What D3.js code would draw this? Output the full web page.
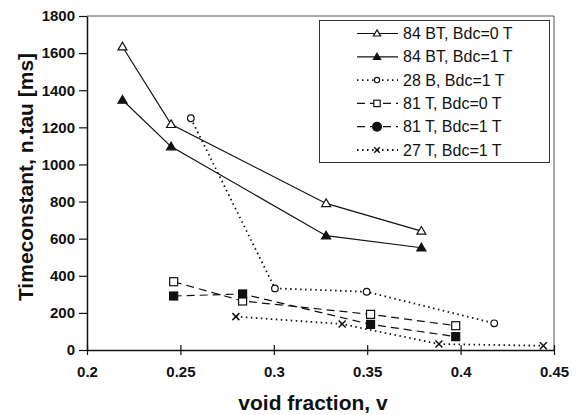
<!DOCTYPE html>
<html>
<head>
	<title>Timeconstant vs void fraction</title>
	<meta charset="utf-8">
	<script src="https://cdnjs.cloudflare.com/ajax/libs/d3/7.8.5/d3.min.js"></script>
	<style type="text/css">
		body { margin: 0; background: #fff; }
		text { font-family: Arial, "Liberation Sans", sans-serif; fill: #111; }
	</style>
</head>
<body>
	<script type="text/javascript">

		// values
		let seriesNames = ['84 BT, Bdc=0 T', '84 BT, Bdc=1 T', '28 B, Bdc=1 T', '81 T, Bdc=0 T', '81 T, Bdc=1 T', '27 T, Bdc=1 T'];
		let bt0X = [0.219, 0.245, 0.328, 0.379];
		let bt0Y = [1634, 1216, 790, 641];
		let bt1X = [0.219, 0.245, 0.328, 0.379];
		let bt1Y = [1347, 1096, 616, 551];
		let b28X = [0.2556, 0.3006, 0.3497, 0.418];
		let b28Y = [1249, 332, 314, 144];
		let t81aX = [0.2464, 0.2833, 0.3518, 0.3974];
		let t81aY = [368, 264, 192, 131];
		let t81bX = [0.2464, 0.2833, 0.3518, 0.3974];
		let t81bY = [291, 302, 138, 72];
		let t27X = [0.2797, 0.3366, 0.3884, 0.4443];
		let t27Y = [180, 140, 32, 23];
		let xTicks = [0.2, 0.25, 0.3, 0.35, 0.4, 0.45];
		let yTicks = [0, 200, 400, 600, 800, 1000, 1200, 1400, 1600, 1800];

		let styles = [
			{ dash: null, marker: 'triOpen' },
			{ dash: null, marker: 'triFill' },
			{ dash: '1.5,3.5', marker: 'circOpen' },
			{ dash: '8,5', marker: 'sqOpen' },
			{ dash: '8,5', marker: 'sqFill' },
			{ dash: '1.5,3.5', marker: 'cross' }
		];
		let xs = [bt0X, bt1X, b28X, t81aX, t81bX, t27X];
		let ys = [bt0Y, bt1Y, b28Y, t81aY, t81bY, t27Y];

		let series = seriesNames.map((name, i) => ({
			name: name,
			style: styles[i],
			points: xs[i].map((x, j) => ({ x: x, y: ys[i][j] }))
		}));

		let svg = d3.select('body').append('svg')
			.attr('width', 576)
			.attr('height', 415);

		let m = { left: 87, right: 554, top: 16, bottom: 350 };

		let xScale = d3.scaleLinear().domain([0.2, 0.45]).range([m.left, m.right]);
		let yScale = d3.scaleLinear().domain([0, 1800]).range([m.bottom, m.top]);

		// frame
		svg.append('line').attr('x1', m.left).attr('x2', m.right).attr('y1', m.top).attr('y2', m.top)
			.attr('stroke', '#555').attr('stroke-width', 1);
		svg.append('line').attr('x1', m.right).attr('x2', m.right).attr('y1', m.top).attr('y2', m.bottom)
			.attr('stroke', '#555').attr('stroke-width', 1);

		let xAxis = svg.append('g')
			.attr('transform', `translate(0,${m.bottom})`)
			.call(d3.axisBottom(xScale).tickValues(xTicks).tickFormat(d3.format('')).tickSize(4).tickSizeOuter(0));
		xAxis.selectAll('.tick line').attr('y1', -5).attr('y2', 5);
		xAxis.selectAll('.tick text').attr('dy', '1.3em');

		let yAxis = svg.append('g')
			.attr('transform', `translate(${m.left},0)`)
			.call(d3.axisLeft(yScale).tickValues(yTicks).tickFormat(d3.format('d')).tickSize(8).tickSizeOuter(0));
		yAxis.selectAll('.tick text').attr('x', -12);

		svg.selectAll('.domain').attr('stroke', '#111').attr('stroke-width', 1.5);
		svg.selectAll('.tick line').attr('stroke', '#111').attr('stroke-width', 1.2);
		svg.selectAll('.tick text')
			.attr('font-size', 15).attr('font-weight', 'bold')
			.attr('font-family', 'Arial, "Liberation Sans", sans-serif').attr('fill', '#111');

		let line = d3.line().x(d => xScale(d.x)).y(d => yScale(d.y));

		function drawMarker(g, type, cx, cy, k) {
			k = k || 1;
			if (type === 'triOpen' || type === 'triFill') {
				let s = 4.5 * k;
				g.append('path')
					.attr('d', `M${cx},${cy - s}L${cx + s},${cy + s * 0.7}L${cx - s},${cy + s * 0.7}Z`)
					.attr('fill', type === 'triFill' ? '#111' : '#fff')
					.attr('stroke', '#111').attr('stroke-width', 1.2);
			} else if (type === 'circOpen') {
				g.append('circle').attr('cx', cx).attr('cy', cy).attr('r', 3.3 * k)
					.attr('fill', '#fff').attr('stroke', '#111').attr('stroke-width', 1.2);
			} else if (type === 'sqOpen' || type === 'sqFill') {
				let s = 4 * k;
				g.append('rect').attr('x', cx - s).attr('y', cy - s).attr('width', 2 * s).attr('height', 2 * s)
					.attr('fill', type === 'sqFill' ? '#111' : '#fff')
					.attr('stroke', '#111').attr('stroke-width', 1.2);
			} else if (type === 'dot') {
				g.append('circle').attr('cx', cx).attr('cy', cy).attr('r', 5)
					.attr('fill', '#111');
			} else if (type === 'cross') {
				let s = 3.5 * k;
				g.append('path')
					.attr('d', `M${cx - s},${cy - s}L${cx + s},${cy + s}M${cx - s},${cy + s}L${cx + s},${cy - s}`)
					.attr('stroke', '#111').attr('stroke-width', 1.5);
			}
		}

		series.forEach(s => {
			svg.append('path')
				.datum(s.points)
				.attr('d', line)
				.attr('fill', 'none')
				.attr('stroke', '#111')
				.attr('stroke-width', s.style.dash && s.style.dash.startsWith('1.5') ? 1.8 : 1.2)
				.attr('stroke-dasharray', s.style.dash);
			let g = svg.append('g');
			s.points.forEach(p => drawMarker(g, s.style.marker, xScale(p.x), yScale(p.y)));
		});

		// legend
		let legend = svg.append('g');
		legend.append('rect')
			.attr('x', 319.5).attr('y', 20.5).attr('width', 230).attr('height', 142)
			.attr('fill', '#fff').attr('stroke', '#333').attr('stroke-width', 1);

		series.forEach((s, i) => {
			let y = 33.5 + i * 23.3;
			legend.append('line')
				.attr('x1', 357).attr('x2', 398).attr('y1', y).attr('y2', y)
				.attr('stroke', '#111')
				.attr('stroke-width', s.style.dash && s.style.dash.startsWith('1.5') ? 1.8 : 1.2)
				.attr('stroke-dasharray', s.style.dash);
			let mk = s.style.marker === 'sqFill' ? 'dot' : s.style.marker;
			drawMarker(legend, mk, 377, y, 0.8);
			legend.append('text')
				.attr('x', 403).attr('y', y + 5.5)
				.attr('font-size', 16)
				.text(s.name);
		});

		// axis titles
		svg.append('text')
			.attr('x', 313).attr('y', 410)
			.attr('text-anchor', 'middle')
			.attr('font-size', 21).attr('font-weight', 'bold')
			.text('void fraction, v');

		svg.append('text')
			.attr('transform', 'translate(33,177) rotate(-90)')
			.attr('text-anchor', 'middle')
			.attr('font-size', 21).attr('font-weight', 'bold')
			.text('Timeconstant, n.tau [ms]');
	</script>
</body>
</html>
